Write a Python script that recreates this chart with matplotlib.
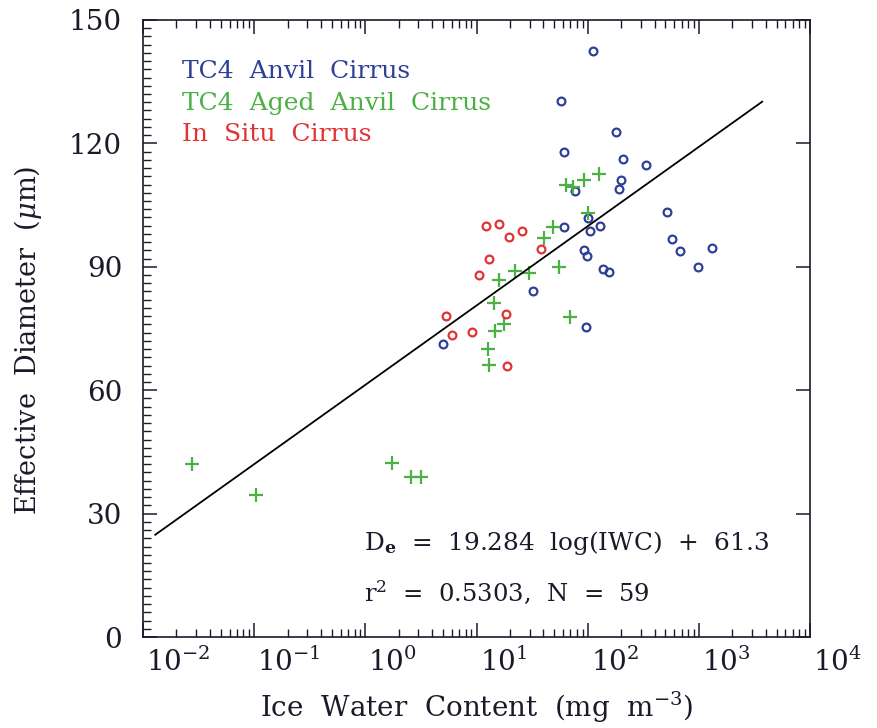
import numpy as np
import matplotlib
matplotlib.use("Agg")
import matplotlib.pyplot as plt
from matplotlib.ticker import LogLocator, MultipleLocator, FixedLocator
import matplotlib.transforms as mtransforms

plt.rcParams['font.family'] = ['DejaVu Serif']
plt.rcParams['mathtext.fontset'] = 'dejavuserif'

# Ice water content (mg m^-3) and effective diameter (um) per cloud type
anvil_iwc = [111, 57.4, 179.5, 60.7, 207.5, 331.7, 200, 192.8, 77.2, 515,
             101, 61.5, 128.8, 104.7, 571.6, 93.0, 99, 682, 1303, 137,
             155.2, 990, 32.4, 95.7, 4.95]
anvil_de = [142.5, 130.4, 122.7, 117.9, 116.1, 114.7, 111.0, 108.9, 108.5, 103.3,
            101.9, 99.6, 99.8, 98.7, 96.7, 94.1, 92.6, 93.9, 94.6, 89.5,
            88.8, 90.0, 84.2, 75.4, 71.2]

aged_iwc = [63.3, 73.1, 92.5, 126.1, 101, 49.0, 40.6, 54.7, 22.1, 29.6,
            15.9, 14.3, 69.2, 17.8, 14.6, 12.7, 12.9, 0.0274, 0.1037, 1.73,
            2.59, 3.16]
aged_de = [109.9, 109.5, 111.1, 112.6, 103.2, 99.6, 97.1, 90.0, 89.1, 88.4,
           86.7, 81.1, 77.9, 76.0, 74.4, 69.9, 66.1, 42.0, 34.5, 42.4,
           38.8, 38.8]

insitu_iwc = [12.1, 15.9, 19.7, 25.6, 37.9, 13.0, 10.6, 5.31, 18.3, 6.07, 9.1, 18.8]
insitu_de = [99.8, 100.5, 97.2, 98.6, 94.3, 91.8, 88.1, 78.0, 78.5, 73.4, 74.1, 65.9]

# Regression fit De = slope * log10(IWC) + intercept
fit_slope = 19.284
fit_intercept = 61.3
fit_r2 = 0.5303
fit_n = 59
fit_log_range = (-1.89, 3.57)

series_labels = ["TC4  Anvil  Cirrus", "TC4  Aged  Anvil  Cirrus", "In  Situ  Cirrus"]

blue = '#2e3f97'
green = '#4cb045'
red = '#e23232'
ink = '#1a1a2a'

fig = plt.figure(figsize=(8.77, 7.28), dpi=100)
ax = fig.add_axes([143 / 877, 1 - 637 / 728, 667 / 877, 617 / 728])

ax.set_xscale('log')
ax.set_xlim(1e-2, 1e4)
ax.set_ylim(0, 150)

ax.plot(anvil_iwc, anvil_de, linestyle='none', marker='o', markersize=5.6,
        markerfacecolor='none', markeredgecolor=blue, markeredgewidth=1.6)
ax.plot(aged_iwc, aged_de, linestyle='none', marker='+', markersize=10,
        color=green, markeredgewidth=1.6)
ax.plot(insitu_iwc, insitu_de, linestyle='none', marker='o', markersize=5.6,
        markerfacecolor='none', markeredgecolor=red, markeredgewidth=1.6)

lx = np.linspace(fit_log_range[0], fit_log_range[1], 50)
ax.plot(10 ** lx, fit_slope * lx + fit_intercept, color='black', linewidth=1.3)

# Axis ticks
ax.xaxis.set_major_locator(FixedLocator([10.0 ** k for k in range(-2, 5)]))
ax.xaxis.set_minor_locator(LogLocator(base=10, subs=np.arange(2, 10), numticks=20))
ax.yaxis.set_major_locator(MultipleLocator(30))
ax.yaxis.set_minor_locator(MultipleLocator(2))
ax.set_xticklabels([r'$10^{%d}$' % k for k in range(-2, 5)])

ax.tick_params(which='both', direction='in', top=True, right=True, colors=ink)
ax.tick_params(which='major', length=10, width=1.1, labelsize=20)
ax.tick_params(which='minor', length=6, width=1.0)
ax.tick_params(axis='y', which='minor', right=False)
ax.tick_params(axis='y', which='major', pad=15)
ax.tick_params(axis='x', which='major', pad=8)
for lab in ax.get_xticklabels():
    lab.set_horizontalalignment('left')
    lab.set_transform(lab.get_transform() +
                      mtransforms.ScaledTranslation(3 / 100, 0, fig.dpi_scale_trans))
for lab in ax.get_xticklabels() + ax.get_yticklabels():
    lab.set_color(ink)

for sp in ax.spines.values():
    sp.set_linewidth(1.2)
    sp.set_color(ink)

ax.set_xlabel(r'Ice  Water  Content  (mg  m$^{-3}$)', fontsize=20, labelpad=9,
              color=ink)
ax.set_ylabel(r'Effective  Diameter  ($\mu$m)', fontsize=19.5, color=ink)
ax.yaxis.set_label_coords(-0.148, 0.48)

# Series names
for lab, col, yy in zip(series_labels, [blue, green, red], [0.917, 0.865, 0.814]):
    ax.text(0.058, yy, lab, color=col, fontsize=18, transform=ax.transAxes,
            va='center', ha='left')

# Fit annotation
ax.text(0.332, 0.152,
        r'D$_\mathbf{e}$  =  %.3f  log(IWC)  +  %.1f' % (fit_slope, fit_intercept),
        fontsize=17.8, transform=ax.transAxes, va='center', ha='left', color=ink)
ax.text(0.332, 0.073,
        r'r$^2$  =  %.4f,  N  =  %d' % (fit_r2, fit_n),
        fontsize=17.5, transform=ax.transAxes, va='center', ha='left', color=ink)

fig.savefig('out.png', dpi=100)
